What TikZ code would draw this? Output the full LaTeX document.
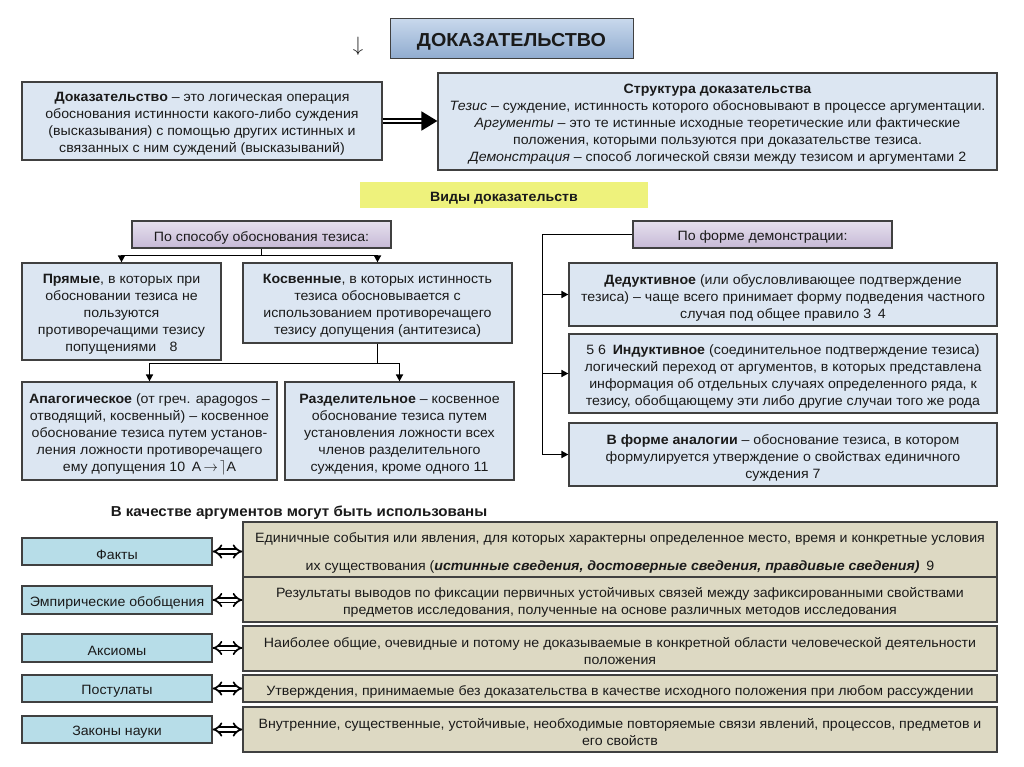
\documentclass[tikz,border=0pt]{standalone}
\usepackage{fontspec}
\setmainfont[FakeStretch=1.05]{Liberation Sans}
\usetikzlibrary{arrows.meta,calc}
\definecolor{boxblue}{HTML}{DCE6F2}
\definecolor{boxborder}{HTML}{404040}
\definecolor{titletop}{HTML}{C8D8EC}
\definecolor{titlebot}{HTML}{8FABCF}
\definecolor{lavtop}{HTML}{E6E0EE}
\definecolor{lavbot}{HTML}{C6B9D6}
\definecolor{yel}{HTML}{EEF27C}
\definecolor{cyanbox}{HTML}{B7DDE8}
\definecolor{khaki}{HTML}{DDD9C3}
\definecolor{txt}{HTML}{1A1A1A}
\newcommand\placebox[7]{\node[#6, minimum width={(#4-#2)*1pt}, minimum height={(#5-#3)*1pt}] (#1) at ({(#2+#4)/2},{(#3+#5)/2}) {};
  \node[boxtext] (#1-text) at ([yshift=-3pt]#1.center) {#7};}
\begin{document}
\begin{tikzpicture}[x=1pt,y=-1pt,
  every node/.style={font=\fontsize{13.5}{17}\selectfont, text=txt, align=center, inner sep=0pt},
  boxtext/.style={},
  bluebox/.style={draw=boxborder, line width=1.2pt, fill=boxblue},
  titlebox/.style={draw=boxborder, line width=1pt, top color=titletop, bottom color=titlebot},
  lavbox/.style={draw=boxborder, line width=1.2pt, top color=lavtop, bottom color=lavbot},
  yelbox/.style={fill=yel},
  cybox/.style={draw=boxborder, line width=1.2pt, fill=cyanbox},
  khbox/.style={draw=boxborder, line width=1.2pt, fill=khaki},
  conn/.style={line width=1.6pt, draw=black},
  arr/.style={conn, -{Triangle[length=7pt,width=7pt]}},
  dblarrow/.style={line width=1.8pt, double distance=2.4pt, -{Triangle[length=16pt,width=19pt]}},
  eqarrow/.style={line width=1.7pt, double distance=3pt, {Implies}-{Implies}}
]
\useasboundingbox[fill=white] (0,0) rectangle (1024,767);

% top
\placebox{title}{390}{19}{633}{59}{titlebox}{\fontsize{18.8}{20}\selectfont\bfseries ДОКАЗАТЕЛЬСТВО}
\node[font=\fontsize{21}{22}\selectfont] (down) at (358,46) {$\downarrow$};
\placebox{defbox}{22}{82}{382}{160}{bluebox}{\textbf{Доказательство} – это логическая операция\\обоснования истинности какого-либо суждения\\(высказывания) с помощью других истинных и\\связанных с ним суждений (высказываний)}
\placebox{structbox}{438}{73}{997}{170}{bluebox}{\textbf{Структура доказательства}\\\textit{Тезис} – суждение, истинность которого обосновывают в процессе аргументации.\\\textit{Аргументы} – это те истинные исходные теоретические или фактические\\положения, которыми пользуются при доказательстве тезиса.\\\textit{Демонстрация} – способ логической связи между тезисом и аргументами 2}
\draw[dblarrow] (defbox.east) -- (defbox.east -| structbox.west);

\placebox{vidy}{360}{182}{648}{208}{yelbox}{\textbf{Виды доказательств}}

% left tree
\placebox{method}{132}{221}{391}{248}{lavbox}{По способу обоснования тезиса:}
\placebox{direct}{22}{263}{221}{360}{bluebox}{\textbf{Прямые}, в которых при\\обосновании тезиса не\\пользуются\\противоречащими тезису\\попущениями\quad 8}
\placebox{indirect}{243}{263}{512}{343}{bluebox}{\textbf{Косвенные}, в которых истинность\\тезиса обосновывается с\\использованием противоречащего\\тезису допущения (антитезиса)}
\placebox{apag}{22}{382}{277}{480}{bluebox}{\textbf{Апагогическое} (от греч. apagogos –\\отводящий, косвенный) – косвенное\\обоснование тезиса путем установ-\\ления ложности противоречащего\\ему допущения 10\enspace А\,$\rightarrow$\,$\rceil$А}
\placebox{razd}{285}{382}{514}{480}{bluebox}{\textbf{Разделительное} – косвенное\\обоснование тезиса путем\\установления ложности всех\\членов разделительного\\суждения, кроме одного 11}

\draw[arr] (method.south) -- ++(0,7) -| (direct.north);
\draw[arr] (method.south) -- ++(0,7) -| (indirect.north);
\draw[arr] (indirect.south) -- ++(0,20) -| (apag.north);
\draw[arr] (indirect.south) -- ++(0,20) -| (razd.north);

% right tree
\placebox{form}{633}{221}{892}{248}{lavbox}{По форме демонстрации:}
\placebox{ded}{569}{263}{997}{326}{bluebox}{\textbf{Дедуктивное} (или обусловливающее подтверждение\\тезиса) – чаще всего принимает форму подведения частного\\случая под общее правило 3\enspace 4}
\placebox{ind}{569}{334}{997}{413}{bluebox}{5 6\enspace\textbf{Индуктивное} (соединительное подтверждение тезиса)\\логический переход от аргументов, в которых представлена\\информация об отдельных случаях определенного ряда, к\\тезису, обобщающему эти либо другие случаи того же рода}
\placebox{anal}{569}{423}{997}{486}{bluebox}{\textbf{В форме аналогии} – обоснование тезиса, в котором\\формулируется утверждение о свойствах единичного\\суждения 7}

\draw[arr] (form.west) -| ([xshift=-26pt]anal.west) -- (anal.west);
\draw[arr] ([xshift=-26pt]ded.west) -- (ded.west);
\draw[arr] ([xshift=-26pt]ind.west) -- (ind.west);

% arguments
\node[font=\fontsize{14.4}{17}\selectfont\bfseries] (arghead) at (299,513) {В качестве аргументов могут быть использованы};

\placebox{fact}{22}{538}{212}{565}{cybox}{Факты}
\placebox{emp}{22}{586}{212}{614}{cybox}{Эмпирические обобщения}
\placebox{ax}{22}{634}{212}{662}{cybox}{Аксиомы}
\placebox{post}{22}{675}{212}{702}{cybox}{Постулаты}
\placebox{law}{22}{716}{212}{743}{cybox}{Законы науки}

\placebox{kfact}{243}{522}{997}{577}{khbox}{Единичные события или явления, для которых характерны определенное место, время и конкретные условия\\[11pt]их существования (\textbf{\textit{истинные сведения, достоверные сведения, правдивые сведения)}}\enspace 9}
\placebox{kemp}{243}{577}{997}{622}{khbox}{Результаты выводов по фиксации первичных устойчивых связей между зафиксированными свойствами\\предметов исследования, полученные на основе различных методов исследования}
\placebox{kax}{243}{626}{997}{671}{khbox}{Наиболее общие, очевидные и потому не доказываемые в конкретной области человеческой деятельности\\положения}
\placebox{kpost}{243}{675}{997}{702}{khbox}{Утверждения, принимаемые без доказательства в качестве исходного положения при любом рассуждении}
\placebox{klaw}{243}{707}{997}{752}{khbox}{Внутренние, существенные, устойчивые, необходимые повторяемые связи явлений, процессов, предметов и\\его свойств}

\draw[eqarrow] (fact.east) -- (fact.east -| kfact.west);
\draw[eqarrow] (emp.east) -- (emp.east -| kemp.west);
\draw[eqarrow] (ax.east) -- (ax.east -| kax.west);
\draw[eqarrow] (post.east) -- (post.east -| kpost.west);
\draw[eqarrow] (law.east) -- (law.east -| klaw.west);
\end{tikzpicture}
\end{document}
